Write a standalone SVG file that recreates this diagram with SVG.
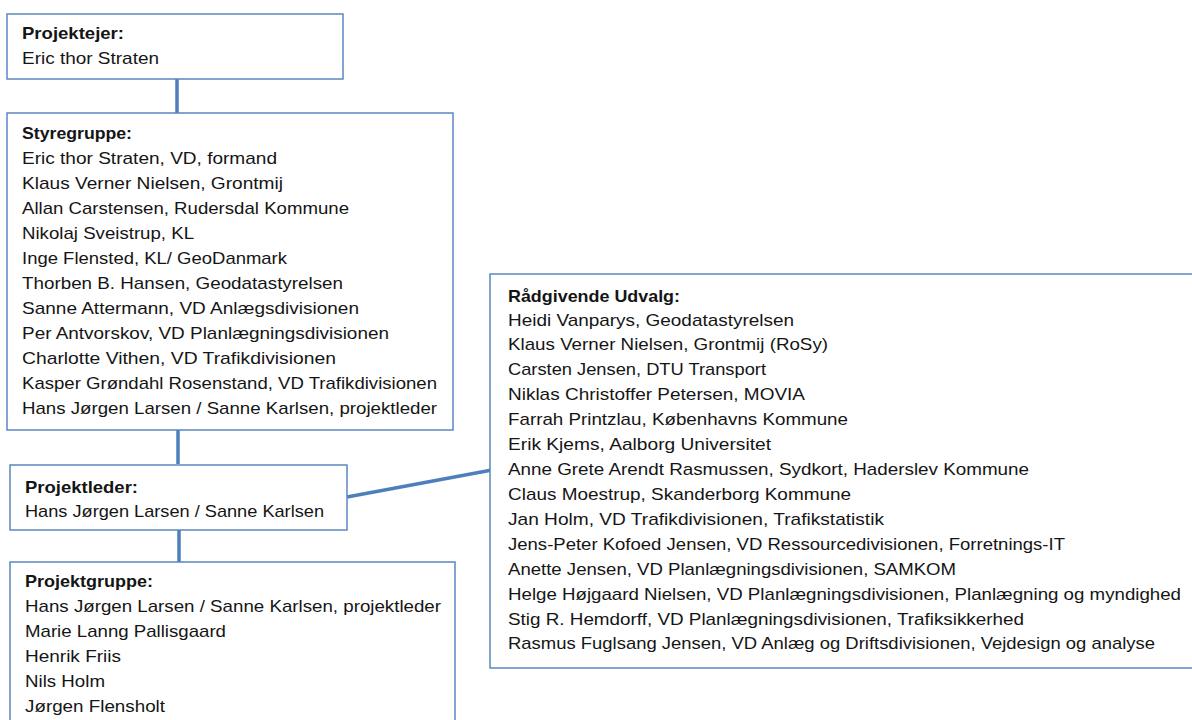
<svg xmlns="http://www.w3.org/2000/svg" width="1192" height="720" viewBox="0 0 1192 720">
<style>
.box{fill:#fff;stroke:#5b87c0;stroke-width:1.5}
.con{stroke:#4f7fbb;stroke-width:3.5;fill:none}
text{font-family:"Liberation Sans",Arial,sans-serif;font-size:17px;fill:#151515}
.h{font-weight:bold}
</style>
<rect width="1192" height="720" fill="#fff"/>
<g id="connectors">
<line class="con" x1="177" y1="79" x2="177" y2="113"/>
<line class="con" x1="178" y1="430" x2="178" y2="464"/>
<line class="con" x1="179" y1="530" x2="179" y2="562"/>
<line class="con" x1="347" y1="497" x2="492" y2="470"/>
</g>
<g id="projektejer">
<rect class="box" x="7" y="14" width="336" height="65"/>
<text class="h" x="22" y="39" textLength="102" lengthAdjust="spacingAndGlyphs">Projektejer:</text>
<text x="22" y="64" textLength="137" lengthAdjust="spacingAndGlyphs">Eric thor Straten</text>
</g>
<g id="styregruppe">
<rect class="box" x="7" y="113" width="446" height="317"/>
<text class="h" x="22" y="139" textLength="110" lengthAdjust="spacingAndGlyphs">Styregruppe:</text>
<text x="22" y="164" textLength="255" lengthAdjust="spacingAndGlyphs">Eric thor Straten, VD, formand</text>
<text x="22" y="189" textLength="261" lengthAdjust="spacingAndGlyphs">Klaus Verner Nielsen, Grontmij</text>
<text x="22" y="214" textLength="327" lengthAdjust="spacingAndGlyphs">Allan Carstensen, Rudersdal Kommune</text>
<text x="22" y="239" textLength="172" lengthAdjust="spacingAndGlyphs">Nikolaj Sveistrup, KL</text>
<text x="22" y="264" textLength="265" lengthAdjust="spacingAndGlyphs">Inge Flensted, KL/ GeoDanmark</text>
<text x="22" y="289" textLength="321" lengthAdjust="spacingAndGlyphs">Thorben B. Hansen, Geodatastyrelsen</text>
<text x="22" y="314" textLength="337" lengthAdjust="spacingAndGlyphs">Sanne Attermann, VD Anlægsdivisionen</text>
<text x="22" y="339" textLength="367" lengthAdjust="spacingAndGlyphs">Per Antvorskov, VD Planlægningsdivisionen</text>
<text x="22" y="364" textLength="314" lengthAdjust="spacingAndGlyphs">Charlotte Vithen, VD Trafikdivisionen</text>
<text x="22" y="389" textLength="415" lengthAdjust="spacingAndGlyphs">Kasper Grøndahl Rosenstand, VD Trafikdivisionen</text>
<text x="22" y="414" textLength="415" lengthAdjust="spacingAndGlyphs">Hans Jørgen Larsen / Sanne Karlsen, projektleder</text>
</g>
<g id="projektleder">
<rect class="box" x="10" y="465" width="337" height="65"/>
<text class="h" x="25" y="493" textLength="113" lengthAdjust="spacingAndGlyphs">Projektleder:</text>
<text x="25" y="517" textLength="299" lengthAdjust="spacingAndGlyphs">Hans Jørgen Larsen / Sanne Karlsen</text>
</g>
<g id="projektgruppe">
<rect class="box" x="10" y="562" width="445" height="170"/>
<text class="h" x="25" y="587" textLength="128" lengthAdjust="spacingAndGlyphs">Projektgruppe:</text>
<text x="25" y="612" textLength="416" lengthAdjust="spacingAndGlyphs">Hans Jørgen Larsen / Sanne Karlsen, projektleder</text>
<text x="25" y="637" textLength="201" lengthAdjust="spacingAndGlyphs">Marie Lanng Pallisgaard</text>
<text x="25" y="662" textLength="96" lengthAdjust="spacingAndGlyphs">Henrik Friis</text>
<text x="25" y="687" textLength="80" lengthAdjust="spacingAndGlyphs">Nils Holm</text>
<text x="25" y="712" textLength="140" lengthAdjust="spacingAndGlyphs">Jørgen Flensholt</text>
</g>
<g id="raadgivende">
<rect class="box" x="490" y="274" width="720" height="394"/>
<text class="h" x="508" y="302" textLength="172" lengthAdjust="spacingAndGlyphs">Rådgivende Udvalg:</text>
<text x="508" y="326" textLength="286" lengthAdjust="spacingAndGlyphs">Heidi Vanparys, Geodatastyrelsen</text>
<text x="508" y="350" textLength="320" lengthAdjust="spacingAndGlyphs">Klaus Verner Nielsen, Grontmij (RoSy)</text>
<text x="508" y="375" textLength="258" lengthAdjust="spacingAndGlyphs">Carsten Jensen, DTU Transport</text>
<text x="508" y="400" textLength="297" lengthAdjust="spacingAndGlyphs">Niklas Christoffer Petersen, MOVIA</text>
<text x="508" y="425" textLength="340" lengthAdjust="spacingAndGlyphs">Farrah Printzlau, Københavns Kommune</text>
<text x="508" y="450" textLength="263" lengthAdjust="spacingAndGlyphs">Erik Kjems, Aalborg Universitet</text>
<text x="508" y="475" textLength="521" lengthAdjust="spacingAndGlyphs">Anne Grete Arendt Rasmussen, Sydkort, Haderslev Kommune</text>
<text x="508" y="500" textLength="343" lengthAdjust="spacingAndGlyphs">Claus Moestrup, Skanderborg Kommune</text>
<text x="508" y="525" textLength="376" lengthAdjust="spacingAndGlyphs">Jan Holm, VD Trafikdivisionen, Trafikstatistik</text>
<text x="508" y="550" textLength="557" lengthAdjust="spacingAndGlyphs">Jens-Peter Kofoed Jensen, VD Ressourcedivisionen, Forretnings-IT</text>
<text x="508" y="575" textLength="448" lengthAdjust="spacingAndGlyphs">Anette Jensen, VD Planlægningsdivisionen, SAMKOM</text>
<text x="508" y="600" textLength="673" lengthAdjust="spacingAndGlyphs">Helge Højgaard  Nielsen, VD Planlægningsdivisionen, Planlægning og myndighed</text>
<text x="508" y="625" textLength="516" lengthAdjust="spacingAndGlyphs">Stig R. Hemdorff, VD Planlægningsdivisionen, Trafiksikkerhed</text>
<text x="508" y="649" textLength="647" lengthAdjust="spacingAndGlyphs">Rasmus Fuglsang Jensen, VD Anlæg og Driftsdivisionen, Vejdesign og analyse</text>
</g>
</svg>
